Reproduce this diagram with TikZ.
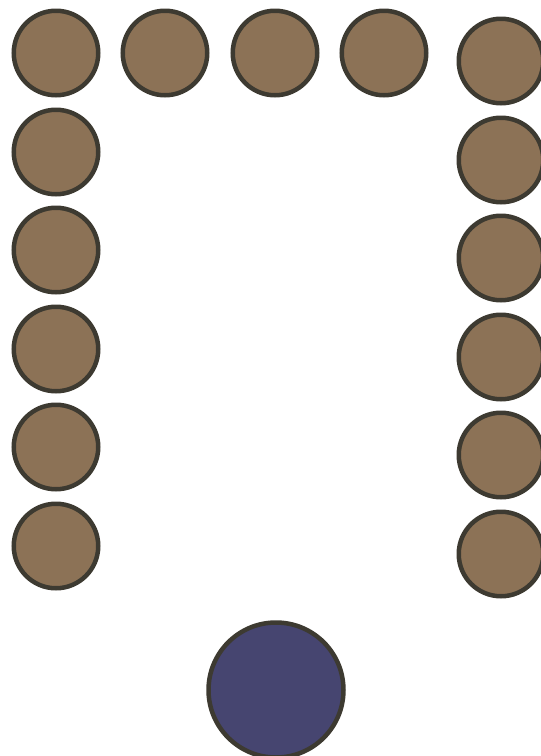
\documentclass[tikz,border=0pt]{standalone}
\definecolor{wood}{HTML}{8C7256}
\definecolor{rim}{HTML}{3D3A31}
\definecolor{navy}{HTML}{464570}
\begin{document}
\begin{tikzpicture}[x=1pt,y=-1pt,
  seat/.style={circle,draw=rim,fill=wood,line width=4.5pt,minimum size=84.5pt,inner sep=0pt},
  host/.style={circle,draw=rim,fill=navy,line width=4.5pt,minimum size=135pt,inner sep=0pt}]
\useasboundingbox (0,0) rectangle (541,756);
\foreach \x [count=\i] in {56,165,275,384} \node[seat] (t\i) at (\x,53) {};
\foreach \y [count=\i] in {152,250,349,447,546} \node[seat] (l\i) at (56,\y) {};
\foreach \y [count=\i] in {61,160,258,357,455,554} \node[seat] (r\i) at (501,\y) {};
\node[host] (h) at (276,690) {};
\end{tikzpicture}
\end{document}
